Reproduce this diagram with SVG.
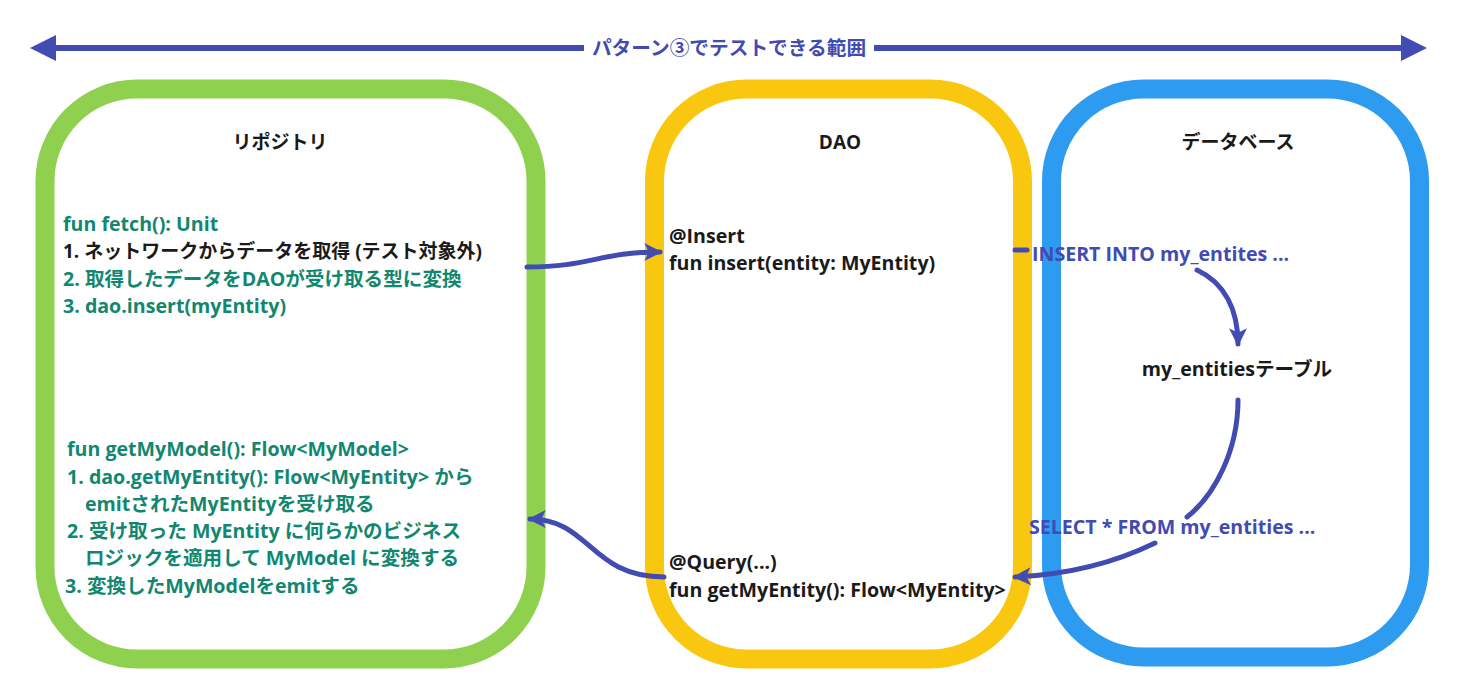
<svg xmlns="http://www.w3.org/2000/svg" width="1457" height="686" viewBox="0 0 1457 686">
<style>
.t{font-family:"Open Sans","Noto Sans CJK JP",sans-serif;font-weight:700;font-size:19.6px}
.g{fill:#12876F}
.k{fill:#1a1a1a}
.b{fill:#414BB2}
.title{font-family:"Open Sans","Noto Sans CJK JP",sans-serif;font-weight:700;font-size:19px;fill:#1a1a1a;text-anchor:middle}
.box{fill:none;stroke-width:19}
.c{fill:none;stroke:#414BB2;stroke-width:5;stroke-linecap:round}
</style>
<defs>
<marker id="ah" markerUnits="userSpaceOnUse" markerWidth="18" markerHeight="18" viewBox="0 0 16 16" refX="14" refY="8" orient="auto">
<path d="M0,0 L16,8 L0,16 L4,8 z" fill="#414BB2"/>
</marker>
</defs>
<rect width="1457" height="686" fill="#ffffff"/>

<g id="scope">
<line x1="50" y1="48" x2="1407" y2="48" stroke="#414BB2" stroke-width="6"/>
<polygon points="30,48 56,35 56,61" fill="#414BB2"/>
<polygon points="1427,48 1401,35 1401,61" fill="#414BB2"/>
<rect x="584" y="36" width="290" height="24" fill="#ffffff"/>
<text x="729" y="55" class="t b" text-anchor="middle" style="font-size:19.7px">パターン③でテストできる範囲</text>
</g>

<g id="repository">
<rect x="45" y="89" width="491" height="570" rx="92" class="box" stroke="#8FD14F"/>
<text x="280" y="149" class="title">リポジトリ</text>
<text x="63" y="231" class="t g">fun fetch(): Unit</text>
<text x="63" y="258" class="t k" style="font-size:19px">1. ネットワークからデータを取得 (テスト対象外)</text>
<text x="63" y="286" class="t g">2. 取得したデータをDAOが受け取る型に変換</text>
<text x="63" y="313" class="t g">3. dao.insert(myEntity)</text>
<text x="67" y="456" class="t g">fun getMyModel(): Flow&lt;MyModel&gt;</text>
<text x="67" y="484" class="t g">1. dao.getMyEntity(): Flow&lt;MyEntity&gt; から</text>
<text x="85" y="511" class="t g">emitされたMyEntityを受け取る</text>
<text x="67" y="538" class="t g">2. 受け取った MyEntity に何らかのビジネス</text>
<text x="85" y="565" class="t g">ロジックを適用して MyModel に変換する</text>
<text x="65" y="593" class="t g">3. 変換したMyModelをemitする</text>
</g>

<g id="dao">
<rect x="654.5" y="89" width="368" height="570" rx="92" class="box" stroke="#FAC710"/>
<text x="840" y="149" class="title">DAO</text>
<text x="669" y="243" class="t k">@Insert</text>
<text x="669" y="270" class="t k">fun insert(entity: MyEntity)</text>
<text x="669" y="569" class="t k">@Query(...)</text>
<text x="669" y="597" class="t k">fun getMyEntity(): Flow&lt;MyEntity&gt;</text>
</g>

<g id="database">
<rect x="1051.5" y="89" width="368" height="568" rx="92" class="box" stroke="#2D9BF0"/>
<text x="1238" y="149" class="title">データベース</text>
<text x="1237" y="376" class="t k" text-anchor="middle">my_entitiesテーブル</text>
</g>

<g id="connectors">
<path class="c" d="M527,267 C590,267 600,252 660,252" marker-end="url(#ah)"/>
<path class="c" d="M1015,250 L1027,250" stroke-linecap="butt"/>
<path class="c" d="M1197,270 C1225,283 1238,310 1238,344" marker-end="url(#ah)"/>
<path class="c" d="M1238,400 C1238,450 1215,495 1187,517"/>
<path class="c" d="M1155,543 C1110,565 1060,575 1015,577" marker-end="url(#ah)"/>
<path class="c" d="M664,577 C590,577 590,519 530,519" marker-end="url(#ah)"/>
<text x="1032" y="261" class="t b">INSERT INTO my_entites ...</text>
<text x="1029" y="534" class="t b">SELECT * FROM my_entities ...</text>
</g>
</svg>
